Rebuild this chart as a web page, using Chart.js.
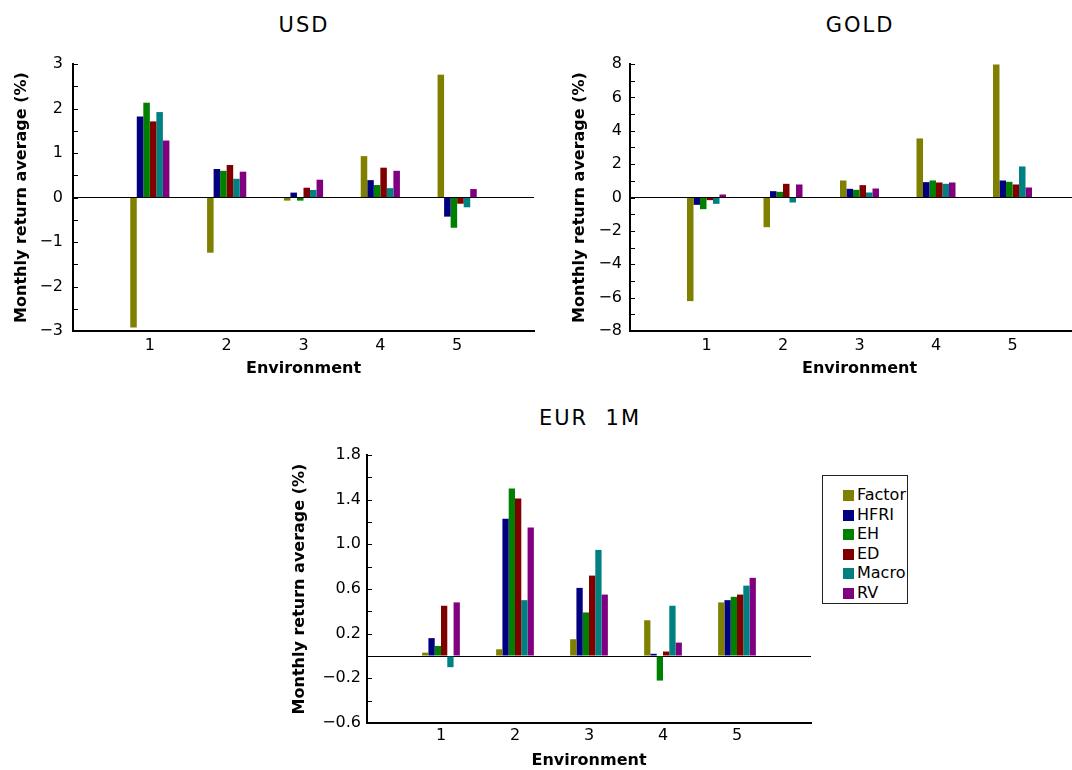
<!DOCTYPE html>
<html>
<head>
<meta charset="utf-8">
<script src="https://cdn.jsdelivr.net/npm/chart.js@4.4.1/dist/chart.umd.min.js"></script>
<style>
  body { margin: 0; width: 1072px; height: 770px; overflow: hidden; background: #fff; position: relative; font-family: "DejaVu Sans", sans-serif; }
  .title { position: absolute; font-size: 21px; letter-spacing: 2px; transform: translate(-50%, -50%); white-space: pre; color: #000; }
  canvas { position: absolute; }
  #legend { position: absolute; left: 822px; top: 475px; width: 86px; height: 129px; border: 1px solid #222; padding-top: 9px; box-sizing: border-box; }
  #legend .item { height: 19.5px; line-height: 19.5px; font-size: 16px; white-space: nowrap; }
  #legend .sw { display: inline-block; width: 11px; height: 11px; margin-left: 20px; margin-right: 3px; vertical-align: -1px; }
</style>
</head>
<body>
<div class="title" style="left:304px;top:25px">USD</div>
<div class="title" style="left:860px;top:25px">GOLD</div>
<div class="title" style="left:590px;top:418px">EUR  1M</div>
<canvas id="usd" width="540" height="390" style="left:0;top:0"></canvas>
<canvas id="gold" width="540" height="390" style="left:560px;top:0"></canvas>
<canvas id="eur" width="540" height="380" style="left:280px;top:390px"></canvas>
<div id="legend"></div>
<script>
// environments on the x axis
const environments = ['1', '2', '3', '4', '5'];
const seriesNames = ['Factor', 'HFRI', 'EH', 'ED', 'Macro', 'RV'];
const seriesColors = ['#808000', '#000080', '#008000', '#800000', '#008080', '#800080'];

// USD
const usdFactor = [-2.92, -1.24, -0.07, 0.93, 2.76];
const usdHFRI   = [1.82, 0.64, 0.11, 0.39, -0.43];
const usdEH     = [2.13, 0.60, -0.07, 0.28, -0.68];
const usdED     = [1.71, 0.73, 0.22, 0.67, -0.14];
const usdMacro  = [1.92, 0.42, 0.17, 0.21, -0.22];
const usdRV     = [1.28, 0.58, 0.40, 0.60, 0.19];

// GOLD
const goldFactor = [-6.21, -1.78, 1.02, 3.54, 7.97];
const goldHFRI   = [-0.44, 0.38, 0.52, 0.92, 1.02];
const goldEH     = [-0.70, 0.34, 0.46, 1.02, 0.94];
const goldED     = [-0.16, 0.82, 0.74, 0.90, 0.78];
const goldMacro  = [-0.38, -0.30, 0.30, 0.82, 1.86];
const goldRV     = [0.18, 0.78, 0.54, 0.90, 0.60];

// EUR 1M
const eurFactor = [0.03, 0.06, 0.15, 0.32, 0.48];
const eurHFRI   = [0.16, 1.23, 0.61, 0.02, 0.50];
const eurEH     = [0.09, 1.50, 0.39, -0.22, 0.53];
const eurED     = [0.45, 1.41, 0.72, 0.04, 0.55];
const eurMacro  = [-0.10, 0.50, 0.95, 0.45, 0.63];
const eurRV     = [0.48, 1.15, 0.55, 0.12, 0.70];

// labelled y ticks
const usdTicks = [-3, -2, -1, 0, 1, 2, 3];
const goldTicks = [-8, -6, -4, -2, 0, 2, 4, 6, 8];
const eurTicks = [-0.6, -0.2, 0.2, 0.6, 1.0, 1.4, 1.8];

Chart.defaults.font.family = '"DejaVu Sans", sans-serif';
Chart.defaults.color = '#000';

// small tick marks drawn inside the plot, on the y axis
const innerTicks = {
  id: 'innerTicks',
  afterDraw(chart) {
    const y = chart.scales.y, area = chart.chartArea, ctx = chart.ctx;
    ctx.save();
    ctx.strokeStyle = '#000';
    ctx.lineWidth = 1;
    y.ticks.forEach(t => {
      const py = Math.round(y.getPixelForValue(t.value)) + 0.5;
      ctx.beginPath();
      ctx.moveTo(area.left, py);
      ctx.lineTo(area.left + 5, py);
      ctx.stroke();
    });
    ctx.restore();
  }
};

function fmt(v, digits) {
  const s = Math.abs(v).toFixed(digits);
  return v < 0 ? '\u2212' + s : s;
}

function makeChart(id, series, yTicks, cfg) {
  new Chart(document.getElementById(id), {
    type: 'bar',
    data: {
      labels: ['', ...environments, ''],
      datasets: series.map((vals, i) => ({
        label: seriesNames[i],
        data: [null, ...vals, null],
        backgroundColor: seriesColors[i],
        borderWidth: 0,
        barPercentage: 1,
        categoryPercentage: 0.51
      }))
    },
    options: {
      responsive: false,
      animation: false,
      layout: { padding: cfg.padding },
      plugins: { legend: { display: false }, tooltip: { enabled: false } },
      scales: {
        x: {
          offset: false,
          grid: { display: false, drawTicks: false },
          border: { display: true, color: '#000', width: 2 },
          ticks: { font: { size: 16 }, padding: cfg.xPad, autoSkip: false, maxRotation: 0 },
          title: { display: true, text: 'Environment', font: { size: 16, weight: 'bold' }, padding: { top: 0, bottom: cfg.xTitlePad } },
          afterFit: s => { s.height = cfg.xHeight; }
        },
        y: {
          min: yTicks[0],
          max: yTicks[yTicks.length - 1],
          border: { display: true, color: '#000', width: 2 },
          grid: {
            drawTicks: false,
            lineWidth: 1,
            color: c => (c.tick && Math.abs(c.tick.value) < 1e-9) ? '#000' : 'rgba(0,0,0,0)'
          },
          ticks: {
            stepSize: cfg.minor,
            autoSkip: false,
            padding: cfg.yPad,
            font: { size: 16 },
            callback: v => yTicks.some(t => Math.abs(t - v) < 1e-9) ? fmt(v, cfg.digits) : ''
          },
          title: { display: true, text: 'Monthly return average (%)', font: { size: 16, weight: 'bold' }, padding: { top: cfg.yTitlePad, bottom: 0 } },
          afterFit: s => { s.width = cfg.yWidth; }
        }
      }
    },
    plugins: [innerTicks]
  });
}

makeChart('usd', [usdFactor, usdHFRI, usdEH, usdED, usdMacro, usdRV], usdTicks, {
  padding: { left: 0, top: 64, right: 6, bottom: 0 },
  yWidth: 73, xHeight: 59, minor: 0.5, digits: 0,
  xPad: 5, yPad: 10, xTitlePad: 12, yTitlePad: 12
});

makeChart('gold', [goldFactor, goldHFRI, goldEH, goldED, goldMacro, goldRV], goldTicks, {
  padding: { left: 0, top: 64, right: 11, bottom: 0 },
  yWidth: 70, xHeight: 59, minor: 1, digits: 0,
  xPad: 5, yPad: 8, xTitlePad: 12, yTitlePad: 10
});

makeChart('eur', [eurFactor, eurHFRI, eurEH, eurED, eurMacro, eurRV], eurTicks, {
  padding: { left: 0, top: 65, right: 9, bottom: 0 },
  yWidth: 87, xHeight: 47, minor: 0.2, digits: 1,
  xPad: 3, yPad: 6, xTitlePad: 0, yTitlePad: 10
});

// legend box
const legend = document.getElementById('legend');
seriesNames.forEach((name, i) => {
  const row = document.createElement('div');
  row.className = 'item';
  row.innerHTML = '<span class="sw" style="background:' + seriesColors[i] + '"></span>' + name;
  legend.appendChild(row);
});
</script>
</body>
</html>
